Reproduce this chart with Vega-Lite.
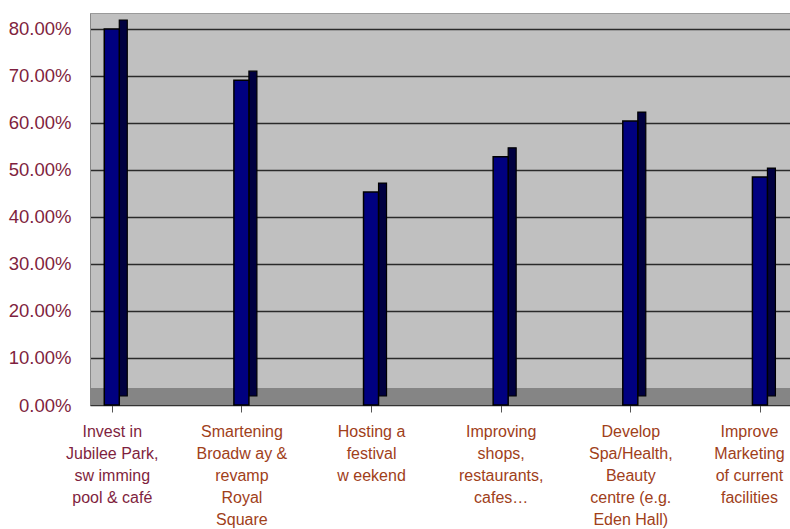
{
  "$schema": "https://vega.github.io/schema/vega-lite/v6.json",
  "width": 700,
  "height": 392,
  "autosize": "none",
  "padding": {"left": 90, "top": 13, "right": 0, "bottom": 124},
  "background": "white",
  "config": {
    "view": {"fill": "#c0c0c0", "stroke": "#9a9a9a"},
    "font": "Liberation Sans"
  },
  "datasets": {
    "survey": [
      {"option": "Invest in\nJubilee Park,\nsw imming\npool & café", "share": 0.800},
      {"option": "Smartening\nBroadw ay &\nrevamp\nRoyal\nSquare", "share": 0.691},
      {"option": "Hosting a\nfestival\nw eekend", "share": 0.453},
      {"option": "Improving\nshops,\nrestaurants,\ncafes…", "share": 0.528},
      {"option": "Develop\nSpa/Health,\nBeauty\ncentre (e.g.\nEden Hall)", "share": 0.604},
      {"option": "Improve\nMarketing\nof current\nfacilities", "share": 0.485}
    ],
    "floor": [{"from": 0, "to": 0.036}]
  },
  "layer": [
    {
      "data": {"name": "floor"},
      "mark": {"type": "rect", "color": "#858585"},
      "encoding": {
        "y": {
          "field": "from",
          "type": "quantitative",
          "scale": {"domain": [0, 0.834], "nice": false, "zero": true},
          "axis": {
            "title": null,
            "format": ".2%",
            "values": [0, 0.1, 0.2, 0.3, 0.4, 0.5, 0.6, 0.7, 0.8],
            "labelFontSize": 18.5,
            "labelColor": "#7f1f40",
            "labelPadding": 19,
            "ticks": false,
            "domainColor": "#888888",
            "grid": true,
            "gridColor": "#2a2a2a",
            "gridWidth": 1.3
          }
        },
        "y2": {"field": "to"}
      }
    },
    {
      "data": {"name": "survey"},
      "encoding": {
        "x": {
          "field": "option",
          "type": "nominal",
          "sort": null,
          "scale": {"type": "point", "padding": 0.2, "align": 0.42},
          "axis": {
            "title": null,
            "labelAngle": 0,
            "labelExpr": "split(datum.label, '\\n')",
            "labelFontSize": 16,
            "labelLineHeight": 22,
            "labelLimit": 300,
            "labelOverlap": false,
            "labelPadding": 11,
            "labelOffset": {"condition": {"test": "indexof(datum.value, 'Improve') == 0", "value": -11}, "value": 0},
            "labelColor": {"condition": {"test": "indexof(datum.value, 'Invest') == 0", "value": "#7f1f40"}, "value": "#a0401a"},
            "domainColor": "#333333",
            "tickColor": "#555555",
            "tickSize": 7,
            "grid": false
          }
        },
        "y": {
          "field": "share",
          "type": "quantitative",
          "scale": {"domain": [0, 0.834], "nice": false, "zero": true},
          "axis": {
            "title": null,
            "format": ".2%",
            "values": [0, 0.1, 0.2, 0.3, 0.4, 0.5, 0.6, 0.7, 0.8],
            "labelFontSize": 18.5,
            "labelColor": "#7f1f40",
            "labelPadding": 19,
            "ticks": false,
            "domainColor": "#888888",
            "grid": true,
            "gridColor": "#2a2a2a",
            "gridWidth": 1.3
          }
        }
      },
      "layer": [
        {
          "mark": {"type": "bar", "width": 8, "xOffset": 11.5, "yOffset": -9, "color": "#000040", "stroke": "#000000", "strokeWidth": 1.2}
        },
        {
          "mark": {"type": "bar", "width": 15, "color": "#000080", "stroke": "#000000", "strokeWidth": 1.5}
        }
      ]
    }
  ]
}
